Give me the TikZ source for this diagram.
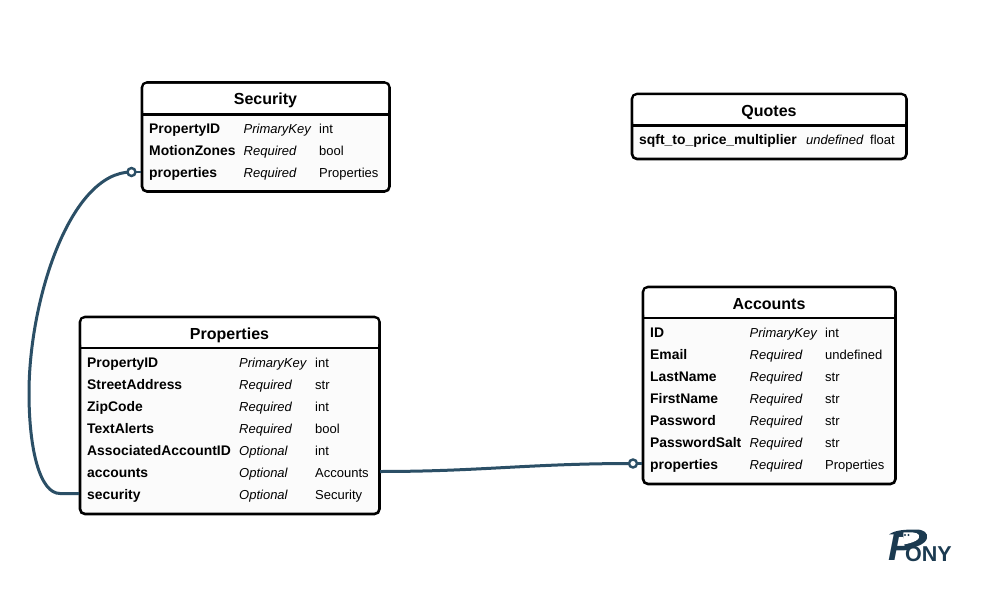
\documentclass[tikz,border=0pt]{standalone}
\usepackage{fontspec}
\setmainfont{Liberation Sans}
\definecolor{linkc}{HTML}{2B4F66}
\definecolor{logoc}{HTML}{1B3A50}
\definecolor{fillc}{HTML}{FBFBFB}
\tikzset{
  x=1pt,y=-1pt,
  tablebox/.style={draw=black,line width=2.6pt,rounded corners=5pt,fill=fillc,inner sep=0pt,outer sep=0pt,anchor=north west},
  headline/.style={line width=2.4pt},
  title/.style={font=\fontsize{16}{17}\selectfont\bfseries,inner sep=0pt,anchor=base},
  fname/.style={font=\fontsize{13.9}{15}\selectfont\bfseries,inner sep=0pt,anchor=base west},
  fopt/.style={font=\fontsize{13}{15}\selectfont\itshape,inner sep=0pt,anchor=base west},
  ftype/.style={font=\fontsize{13}{15}\selectfont,inner sep=0pt,anchor=base west},
  link/.style={draw=linkc,line width=3pt},
  stub/.style={draw=linkc,line width=2.4pt},
  ring/.style={circle,draw=linkc,line width=2.4pt,fill=white,minimum size=8pt,inner sep=0pt},
  logo/.style={text=logoc,inner sep=0pt,anchor=base west}
}
\begin{document}
\begin{tikzpicture}
\useasboundingbox (0,0) rectangle (986,594);
\fill[white] (0,0) rectangle (986,594);
\coordinate (secIn) at (131.5,172);
\coordinate (propOut) at (79,493.5);
\coordinate (propMid) at (29,393);
\coordinate (propOutB) at (380,471.5);
\coordinate (accIn) at (633,463.5);
% Security
\node[tablebox,minimum width=247.5pt,minimum height=109pt] (security) at (142,82.5) {};
\fill[white,rounded corners=3pt] (143.5,84) rectangle (388,113);
\draw[headline] (142,114.5) -- (389.5,114.5);
\node[title] (securityT) at (265.5,104.5) {Security};
\node[fname] (s1a) at (149,133) {PropertyID};
\node[fopt] (s1b) at (243.5,133) {PrimaryKey};
\node[ftype] (s1c) at (319,133) {int};
\node[fname] (s2a) at (149,155) {MotionZones};
\node[fopt] (s2b) at (243.5,155) {Required};
\node[ftype] (s2c) at (319,155) {bool};
\node[fname] (s3a) at (149,177) {properties};
\node[fopt] (s3b) at (243.5,177) {Required};
\node[ftype] (s3c) at (319,177) {Properties};
% Quotes
\node[tablebox,minimum width=274.5pt,minimum height=65pt] (quotes) at (632,94) {};
\fill[white,rounded corners=3pt] (633.5,95.5) rectangle (905,124.5);
\draw[headline] (632,125.5) -- (906.5,125.5);
\node[title] (quotesT) at (769,116.5) {Quotes};
\node[fname] (q1a) at (639,144) {sqft\_to\_price\_multiplier};
\node[fopt] (q1b) at (806,144) {undefined};
\node[ftype] (q1c) at (870,144) {float};
% Properties
\node[tablebox,minimum width=299.5pt,minimum height=197pt] (properties) at (80,317) {};
\fill[white,rounded corners=3pt] (81.5,318.5) rectangle (378,347);
\draw[headline] (80,348) -- (379.5,348);
\node[title] (propertiesT) at (229.5,339) {Properties};
\node[fname] (p1a) at (87,367) {PropertyID};
\node[fopt] (p1b) at (239,367) {PrimaryKey};
\node[ftype] (p1c) at (315,367) {int};
\node[fname] (p2a) at (87,389) {StreetAddress};
\node[fopt] (p2b) at (239,389) {Required};
\node[ftype] (p2c) at (315,389) {str};
\node[fname] (p3a) at (87,411) {ZipCode};
\node[fopt] (p3b) at (239,411) {Required};
\node[ftype] (p3c) at (315,411) {int};
\node[fname] (p4a) at (87,433) {TextAlerts};
\node[fopt] (p4b) at (239,433) {Required};
\node[ftype] (p4c) at (315,433) {bool};
\node[fname] (p5a) at (87,455) {AssociatedAccountID};
\node[fopt] (p5b) at (239,455) {Optional};
\node[ftype] (p5c) at (315,455) {int};
\node[fname] (p6a) at (87,477) {accounts};
\node[fopt] (p6b) at (239,477) {Optional};
\node[ftype] (p6c) at (315,477) {Accounts};
\node[fname] (p7a) at (87,499) {security};
\node[fopt] (p7b) at (239,499) {Optional};
\node[ftype] (p7c) at (315,499) {Security};
% Accounts
\node[tablebox,minimum width=252.5pt,minimum height=197pt] (accounts) at (643,287) {};
\fill[white,rounded corners=3pt] (644.5,288.5) rectangle (894,317);
\draw[headline] (643,318) -- (895.5,318);
\node[title] (accountsT) at (769,309.5) {Accounts};
\node[fname] (a1a) at (650,337) {ID};
\node[fopt] (a1b) at (749.5,337) {PrimaryKey};
\node[ftype] (a1c) at (825,337) {int};
\node[fname] (a2a) at (650,359) {Email};
\node[fopt] (a2b) at (749.5,359) {Required};
\node[ftype] (a2c) at (825,359) {undefined};
\node[fname] (a3a) at (650,381) {LastName};
\node[fopt] (a3b) at (749.5,381) {Required};
\node[ftype] (a3c) at (825,381) {str};
\node[fname] (a4a) at (650,403) {FirstName};
\node[fopt] (a4b) at (749.5,403) {Required};
\node[ftype] (a4c) at (825,403) {str};
\node[fname] (a5a) at (650,425) {Password};
\node[fopt] (a5b) at (749.5,425) {Required};
\node[ftype] (a5c) at (825,425) {str};
\node[fname] (a6a) at (650,447) {PasswordSalt};
\node[fopt] (a6b) at (749.5,447) {Required};
\node[ftype] (a6c) at (825,447) {str};
\node[fname] (a7a) at (650,469) {properties};
\node[fopt] (a7b) at (749.5,469) {Required};
\node[ftype] (a7c) at (825,469) {Properties};
% links
\draw[link] (propOut) -- (60,493.5) .. controls (40,493.5) and (29,450) .. (propMid)
  .. controls (29,300) and (70,172) .. (secIn);
\draw[link] (propOutB) .. controls (480,471.5) and (530,463.5) .. (accIn);
\draw[stub] (secIn) -- (141,172);
\draw[stub] (accIn) -- (642,463.5);
\node[ring] (r1) at (secIn) {};
\node[ring] (r2) at (accIn) {};
% logo
\node[logo,font=\fontsize{40}{40}\selectfont\bfseries\itshape] (logoP) at (888,560.5) {P};
\fill[logoc] (889,534.5) .. controls (895,530) and (905,529.5) .. (916,529.5)
  .. controls (924,529.5) and (928,533) .. (927,538)
  .. controls (926,544) and (915,548) .. (905,549) -- (903,534) -- cycle;
\fill[white] (903.5,532.5) .. controls (910,532) and (917,532) .. (919,535)
  .. controls (921,539) and (914,543) .. (903,544.5) -- cycle;
\fill[logoc] (905,535) circle (1.1pt) (908.5,535) circle (1.1pt);
\node[logo,font=\fontsize{21.5}{22}\selectfont\bfseries] (logoO) at (905,561) {ONY};
\end{tikzpicture}
\end{document}
